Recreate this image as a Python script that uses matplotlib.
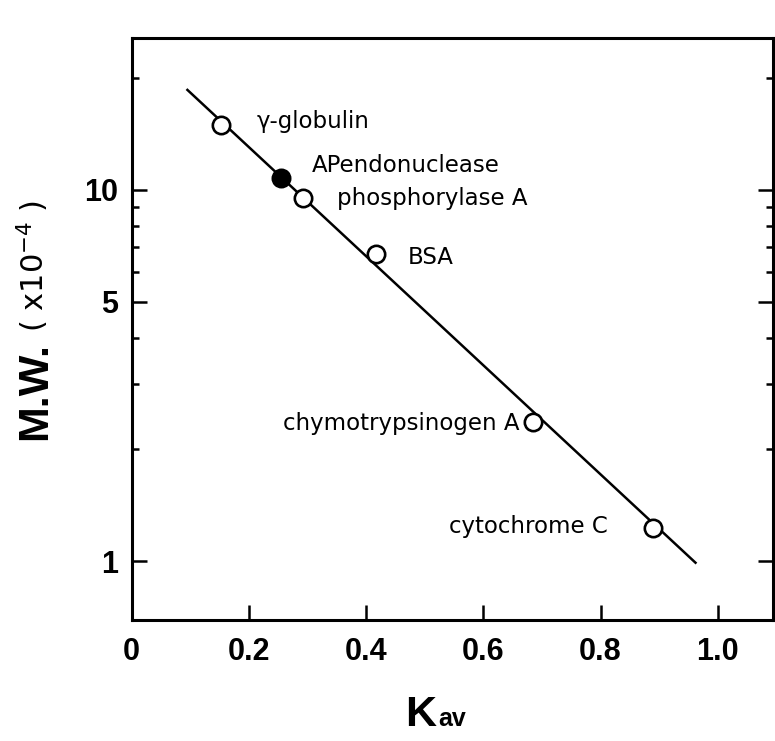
import numpy as np
import matplotlib.pyplot as plt
from matplotlib.ticker import FixedLocator, NullFormatter

# standards (open circles) and the unknown (filled)
std_names = ["γ-globulin", "phosphorylase A", "BSA", "chymotrypsinogen A", "cytochrome C"]
std_kav = [0.153, 0.292, 0.416, 0.685, 0.890]
std_mw = [15.0, 9.5, 6.72, 2.37, 1.23]

ap_name = "APendonuclease"
ap_kav = [0.254]
ap_mw = [10.8]

# calibration line ends
fit_kav = [0.095, 0.962]
fit_mw = [18.6, 0.99]

xticks = [0, 0.2, 0.4, 0.6, 0.8, 1.0]
xticklabels = ["0", "0.2", "0.4", "0.6", "0.8", "1.0"]
yticks = [1, 5, 10]
yminor = [2, 3, 4, 6, 7, 8, 9, 20]

# label offsets in pixels from the point
offsets = {
    "γ-globulin": (35, 3, "left"),
    "phosphorylase A": (34, 0, "left"),
    "BSA": (32, -3, "left"),
    "chymotrypsinogen A": (-14, -1, "right"),
    "cytochrome C": (-46, 1, "right"),
    "APendonuclease": (31, 12, "left"),
}

bold = {"family": "Liberation Sans", "weight": "bold"}

fig = plt.figure(figsize=(7.75, 7.41), dpi=100)
ax = fig.add_axes([0.170, 0.163, 0.828, 0.786])

ax.plot(fit_kav, fit_mw, color="black", lw=1.8, zorder=2)
ax.plot(std_kav, std_mw, "o", ms=12.5, mfc="white", mec="black", mew=1.9, zorder=3)
ax.plot(ap_kav, ap_mw, "o", ms=12.5, mfc="black", mec="black", mew=1.9, zorder=3)

for name, x, y in zip(std_names + [ap_name], std_kav + ap_kav, std_mw + ap_mw):
    dx, dy, ha = offsets[name]
    ax.annotate(name, (x, y), xytext=(dx, dy), textcoords="offset pixels",
                ha=ha, va="center", fontsize=16.5, family="DejaVu Sans")

ax.set_yscale("log")
ax.set_xlim(0, 1.095)
ax.set_ylim(0.693, 25.7)

ax.set_xticks(xticks)
ax.set_xticklabels(xticklabels, fontdict=bold, fontsize=22)
ax.yaxis.set_major_locator(FixedLocator(yticks))
ax.yaxis.set_minor_locator(FixedLocator(yminor))
ax.yaxis.set_minor_formatter(NullFormatter())
ax.set_yticklabels([str(t) for t in yticks], fontdict=bold, fontsize=22)

ax.tick_params(axis="x", which="major", direction="in", length=11, width=1.8, pad=12)
ax.tick_params(axis="y", which="major", direction="in", length=11, width=1.8, pad=10,
               right=True)
ax.tick_params(axis="y", which="minor", direction="in", length=5, width=1.8, right=True)

for s in ax.spines.values():
    s.set_linewidth(2.2)

# axis titles
fig.text(405 / 775, 1 - 726 / 741, "K", fontdict=bold, fontsize=31, ha="left", va="baseline")
fig.text(438 / 775, 1 - 726 / 741, "av", fontdict=bold, fontsize=18, ha="left", va="baseline")
fig.text(35 / 775, 1 - 342 / 741, "M.W.", fontdict=bold, fontsize=31, rotation=90,
         ha="center", va="top")
fig.text(33 / 775, 1 - 332 / 741, "( x10$^{-4}$ )", fontsize=22, rotation=90,
         ha="center", va="bottom", family="DejaVu Sans")

fig.savefig("out.png", dpi=100)
